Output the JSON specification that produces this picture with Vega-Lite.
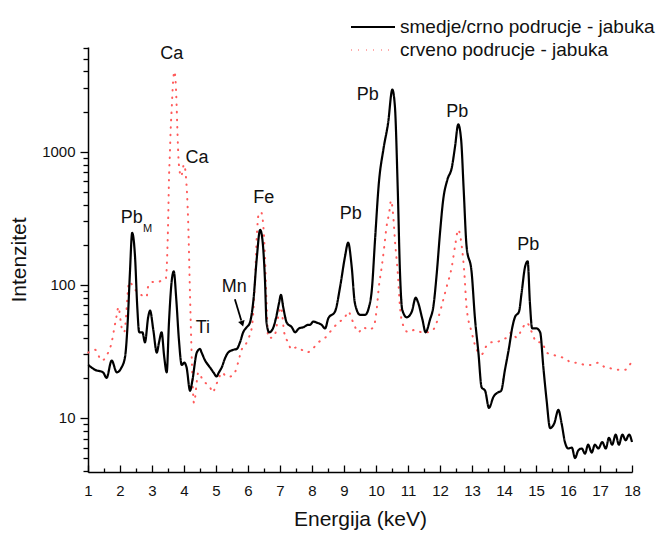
{
  "$schema": "https://vega.github.io/schema/vega-lite/v6.json",
  "width": 544,
  "height": 425,
  "autosize": "none",
  "padding": {"left": 88, "top": 47, "right": 30, "bottom": 68},
  "datasets": {
    "black": [
      {"E":1.01,"I":25,"s":"smedje/crno podrucje - jabuka"},
      {"E":1.22,"I":23,"s":"smedje/crno podrucje - jabuka"},
      {"E":1.47,"I":22,"s":"smedje/crno podrucje - jabuka"},
      {"E":1.58,"I":20,"s":"smedje/crno podrucje - jabuka"},
      {"E":1.74,"I":27,"s":"smedje/crno podrucje - jabuka"},
      {"E":1.9,"I":22,"s":"smedje/crno podrucje - jabuka"},
      {"E":2.05,"I":24,"s":"smedje/crno podrucje - jabuka"},
      {"E":2.16,"I":29,"s":"smedje/crno podrucje - jabuka"},
      {"E":2.24,"I":52,"s":"smedje/crno podrucje - jabuka"},
      {"E":2.31,"I":123,"s":"smedje/crno podrucje - jabuka"},
      {"E":2.38,"I":245,"s":"smedje/crno podrucje - jabuka"},
      {"E":2.47,"I":162,"s":"smedje/crno podrucje - jabuka"},
      {"E":2.54,"I":68,"s":"smedje/crno podrucje - jabuka"},
      {"E":2.6,"I":44,"s":"smedje/crno podrucje - jabuka"},
      {"E":2.7,"I":44,"s":"smedje/crno podrucje - jabuka"},
      {"E":2.78,"I":37,"s":"smedje/crno podrucje - jabuka"},
      {"E":2.88,"I":57,"s":"smedje/crno podrucje - jabuka"},
      {"E":2.94,"I":64,"s":"smedje/crno podrucje - jabuka"},
      {"E":3.04,"I":46,"s":"smedje/crno podrucje - jabuka"},
      {"E":3.15,"I":31,"s":"smedje/crno podrucje - jabuka"},
      {"E":3.22,"I":37,"s":"smedje/crno podrucje - jabuka"},
      {"E":3.3,"I":44,"s":"smedje/crno podrucje - jabuka"},
      {"E":3.38,"I":29,"s":"smedje/crno podrucje - jabuka"},
      {"E":3.46,"I":22,"s":"smedje/crno podrucje - jabuka"},
      {"E":3.53,"I":52,"s":"smedje/crno podrucje - jabuka"},
      {"E":3.62,"I":109,"s":"smedje/crno podrucje - jabuka"},
      {"E":3.68,"I":126,"s":"smedje/crno podrucje - jabuka"},
      {"E":3.76,"I":77,"s":"smedje/crno podrucje - jabuka"},
      {"E":3.84,"I":39,"s":"smedje/crno podrucje - jabuka"},
      {"E":3.93,"I":25,"s":"smedje/crno podrucje - jabuka"},
      {"E":4.01,"I":26,"s":"smedje/crno podrucje - jabuka"},
      {"E":4.08,"I":24,"s":"smedje/crno podrucje - jabuka"},
      {"E":4.19,"I":16,"s":"smedje/crno podrucje - jabuka"},
      {"E":4.26,"I":19,"s":"smedje/crno podrucje - jabuka"},
      {"E":4.4,"I":31,"s":"smedje/crno podrucje - jabuka"},
      {"E":4.5,"I":33,"s":"smedje/crno podrucje - jabuka"},
      {"E":4.55,"I":31,"s":"smedje/crno podrucje - jabuka"},
      {"E":4.66,"I":27,"s":"smedje/crno podrucje - jabuka"},
      {"E":4.81,"I":24,"s":"smedje/crno podrucje - jabuka"},
      {"E":4.92,"I":22,"s":"smedje/crno podrucje - jabuka"},
      {"E":5.02,"I":20.5,"s":"smedje/crno podrucje - jabuka"},
      {"E":5.09,"I":22,"s":"smedje/crno podrucje - jabuka"},
      {"E":5.18,"I":24,"s":"smedje/crno podrucje - jabuka"},
      {"E":5.28,"I":28,"s":"smedje/crno podrucje - jabuka"},
      {"E":5.38,"I":31,"s":"smedje/crno podrucje - jabuka"},
      {"E":5.54,"I":32.5,"s":"smedje/crno podrucje - jabuka"},
      {"E":5.65,"I":33,"s":"smedje/crno podrucje - jabuka"},
      {"E":5.75,"I":37,"s":"smedje/crno podrucje - jabuka"},
      {"E":5.85,"I":44,"s":"smedje/crno podrucje - jabuka"},
      {"E":5.96,"I":48,"s":"smedje/crno podrucje - jabuka"},
      {"E":6.06,"I":52,"s":"smedje/crno podrucje - jabuka"},
      {"E":6.17,"I":77,"s":"smedje/crno podrucje - jabuka"},
      {"E":6.27,"I":154,"s":"smedje/crno podrucje - jabuka"},
      {"E":6.38,"I":259,"s":"smedje/crno podrucje - jabuka"},
      {"E":6.46,"I":207,"s":"smedje/crno podrucje - jabuka"},
      {"E":6.53,"I":109,"s":"smedje/crno podrucje - jabuka"},
      {"E":6.58,"I":52,"s":"smedje/crno podrucje - jabuka"},
      {"E":6.66,"I":44,"s":"smedje/crno podrucje - jabuka"},
      {"E":6.76,"I":46,"s":"smedje/crno podrucje - jabuka"},
      {"E":6.88,"I":57,"s":"smedje/crno podrucje - jabuka"},
      {"E":6.97,"I":73,"s":"smedje/crno podrucje - jabuka"},
      {"E":7.03,"I":84,"s":"smedje/crno podrucje - jabuka"},
      {"E":7.1,"I":68,"s":"smedje/crno podrucje - jabuka"},
      {"E":7.21,"I":52,"s":"smedje/crno podrucje - jabuka"},
      {"E":7.37,"I":48,"s":"smedje/crno podrucje - jabuka"},
      {"E":7.47,"I":44,"s":"smedje/crno podrucje - jabuka"},
      {"E":7.59,"I":47,"s":"smedje/crno podrucje - jabuka"},
      {"E":7.73,"I":48,"s":"smedje/crno podrucje - jabuka"},
      {"E":7.88,"I":50,"s":"smedje/crno podrucje - jabuka"},
      {"E":7.94,"I":50,"s":"smedje/crno podrucje - jabuka"},
      {"E":8.04,"I":53,"s":"smedje/crno podrucje - jabuka"},
      {"E":8.15,"I":52,"s":"smedje/crno podrucje - jabuka"},
      {"E":8.3,"I":50,"s":"smedje/crno podrucje - jabuka"},
      {"E":8.41,"I":47,"s":"smedje/crno podrucje - jabuka"},
      {"E":8.51,"I":56,"s":"smedje/crno podrucje - jabuka"},
      {"E":8.72,"I":63,"s":"smedje/crno podrucje - jabuka"},
      {"E":8.88,"I":97,"s":"smedje/crno podrucje - jabuka"},
      {"E":9.03,"I":162,"s":"smedje/crno podrucje - jabuka"},
      {"E":9.13,"I":207,"s":"smedje/crno podrucje - jabuka"},
      {"E":9.24,"I":137,"s":"smedje/crno podrucje - jabuka"},
      {"E":9.34,"I":73,"s":"smedje/crno podrucje - jabuka"},
      {"E":9.5,"I":59.5,"s":"smedje/crno podrucje - jabuka"},
      {"E":9.66,"I":59.5,"s":"smedje/crno podrucje - jabuka"},
      {"E":9.78,"I":68,"s":"smedje/crno podrucje - jabuka"},
      {"E":9.87,"I":92,"s":"smedje/crno podrucje - jabuka"},
      {"E":9.97,"I":218,"s":"smedje/crno podrucje - jabuka"},
      {"E":10.09,"I":584,"s":"smedje/crno podrucje - jabuka"},
      {"E":10.23,"I":1035,"s":"smedje/crno podrucje - jabuka"},
      {"E":10.38,"I":1650,"s":"smedje/crno podrucje - jabuka"},
      {"E":10.51,"I":2920,"s":"smedje/crno podrucje - jabuka"},
      {"E":10.59,"I":2200,"s":"smedje/crno podrucje - jabuka"},
      {"E":10.68,"I":518,"s":"smedje/crno podrucje - jabuka"},
      {"E":10.75,"I":123,"s":"smedje/crno podrucje - jabuka"},
      {"E":10.82,"I":65,"s":"smedje/crno podrucje - jabuka"},
      {"E":10.96,"I":57,"s":"smedje/crno podrucje - jabuka"},
      {"E":11.12,"I":63,"s":"smedje/crno podrucje - jabuka"},
      {"E":11.24,"I":80,"s":"smedje/crno podrucje - jabuka"},
      {"E":11.32,"I":73,"s":"smedje/crno podrucje - jabuka"},
      {"E":11.45,"I":55,"s":"smedje/crno podrucje - jabuka"},
      {"E":11.55,"I":44,"s":"smedje/crno podrucje - jabuka"},
      {"E":11.69,"I":55,"s":"smedje/crno podrucje - jabuka"},
      {"E":11.79,"I":68,"s":"smedje/crno podrucje - jabuka"},
      {"E":11.9,"I":123,"s":"smedje/crno podrucje - jabuka"},
      {"E":12.0,"I":245,"s":"smedje/crno podrucje - jabuka"},
      {"E":12.1,"I":435,"s":"smedje/crno podrucje - jabuka"},
      {"E":12.23,"I":615,"s":"smedje/crno podrucje - jabuka"},
      {"E":12.37,"I":760,"s":"smedje/crno podrucje - jabuka"},
      {"E":12.47,"I":1090,"s":"smedje/crno podrucje - jabuka"},
      {"E":12.57,"I":1600,"s":"smedje/crno podrucje - jabuka"},
      {"E":12.66,"I":1230,"s":"smedje/crno podrucje - jabuka"},
      {"E":12.74,"I":518,"s":"smedje/crno podrucje - jabuka"},
      {"E":12.83,"I":195,"s":"smedje/crno podrucje - jabuka"},
      {"E":12.99,"I":123,"s":"smedje/crno podrucje - jabuka"},
      {"E":13.09,"I":57,"s":"smedje/crno podrucje - jabuka"},
      {"E":13.2,"I":31,"s":"smedje/crno podrucje - jabuka"},
      {"E":13.3,"I":17,"s":"smedje/crno podrucje - jabuka"},
      {"E":13.41,"I":16,"s":"smedje/crno podrucje - jabuka"},
      {"E":13.53,"I":11.9,"s":"smedje/crno podrucje - jabuka"},
      {"E":13.67,"I":14.4,"s":"smedje/crno podrucje - jabuka"},
      {"E":13.8,"I":15.5,"s":"smedje/crno podrucje - jabuka"},
      {"E":13.91,"I":16,"s":"smedje/crno podrucje - jabuka"},
      {"E":14.03,"I":23,"s":"smedje/crno podrucje - jabuka"},
      {"E":14.16,"I":34,"s":"smedje/crno podrucje - jabuka"},
      {"E":14.26,"I":48,"s":"smedje/crno podrucje - jabuka"},
      {"E":14.34,"I":57,"s":"smedje/crno podrucje - jabuka"},
      {"E":14.47,"I":63,"s":"smedje/crno podrucje - jabuka"},
      {"E":14.55,"I":87,"s":"smedje/crno podrucje - jabuka"},
      {"E":14.66,"I":137,"s":"smedje/crno podrucje - jabuka"},
      {"E":14.74,"I":150,"s":"smedje/crno podrucje - jabuka"},
      {"E":14.81,"I":73,"s":"smedje/crno podrucje - jabuka"},
      {"E":14.88,"I":47,"s":"smedje/crno podrucje - jabuka"},
      {"E":15.02,"I":47,"s":"smedje/crno podrucje - jabuka"},
      {"E":15.13,"I":44,"s":"smedje/crno podrucje - jabuka"},
      {"E":15.23,"I":24,"s":"smedje/crno podrucje - jabuka"},
      {"E":15.33,"I":13.7,"s":"smedje/crno podrucje - jabuka"},
      {"E":15.44,"I":8.4,"s":"smedje/crno podrucje - jabuka"},
      {"E":15.57,"I":9.1,"s":"smedje/crno podrucje - jabuka"},
      {"E":15.7,"I":11.5,"s":"smedje/crno podrucje - jabuka"},
      {"E":15.8,"I":9.1,"s":"smedje/crno podrucje - jabuka"},
      {"E":15.91,"I":6.5,"s":"smedje/crno podrucje - jabuka"},
      {"E":16.01,"I":5.9,"s":"smedje/crno podrucje - jabuka"},
      {"E":16.12,"I":6.0,"s":"smedje/crno podrucje - jabuka"},
      {"E":16.22,"I":5.0,"s":"smedje/crno podrucje - jabuka"},
      {"E":16.32,"I":5.7,"s":"smedje/crno podrucje - jabuka"},
      {"E":16.43,"I":5.9,"s":"smedje/crno podrucje - jabuka"},
      {"E":16.53,"I":5.4,"s":"smedje/crno podrucje - jabuka"},
      {"E":16.63,"I":6.3,"s":"smedje/crno podrucje - jabuka"},
      {"E":16.74,"I":5.5,"s":"smedje/crno podrucje - jabuka"},
      {"E":16.84,"I":6.3,"s":"smedje/crno podrucje - jabuka"},
      {"E":16.95,"I":5.9,"s":"smedje/crno podrucje - jabuka"},
      {"E":17.07,"I":6.6,"s":"smedje/crno podrucje - jabuka"},
      {"E":17.18,"I":5.9,"s":"smedje/crno podrucje - jabuka"},
      {"E":17.28,"I":7.1,"s":"smedje/crno podrucje - jabuka"},
      {"E":17.38,"I":6.3,"s":"smedje/crno podrucje - jabuka"},
      {"E":17.49,"I":7.5,"s":"smedje/crno podrucje - jabuka"},
      {"E":17.59,"I":6.3,"s":"smedje/crno podrucje - jabuka"},
      {"E":17.7,"I":7.5,"s":"smedje/crno podrucje - jabuka"},
      {"E":17.8,"I":6.8,"s":"smedje/crno podrucje - jabuka"},
      {"E":17.91,"I":7.5,"s":"smedje/crno podrucje - jabuka"},
      {"E":18.0,"I":6.6,"s":"smedje/crno podrucje - jabuka"}
    ],
    "red": [
      {"E":1.01,"I":31,"s":"crveno podrucje - jabuka"},
      {"E":1.22,"I":32.5,"s":"crveno podrucje - jabuka"},
      {"E":1.43,"I":27,"s":"crveno podrucje - jabuka"},
      {"E":1.63,"I":31,"s":"crveno podrucje - jabuka"},
      {"E":1.74,"I":37,"s":"crveno podrucje - jabuka"},
      {"E":1.82,"I":47,"s":"crveno podrucje - jabuka"},
      {"E":1.9,"I":59.5,"s":"crveno podrucje - jabuka"},
      {"E":1.95,"I":68,"s":"crveno podrucje - jabuka"},
      {"E":2.05,"I":48,"s":"crveno podrucje - jabuka"},
      {"E":2.13,"I":44,"s":"crveno podrucje - jabuka"},
      {"E":2.29,"I":105,"s":"crveno podrucje - jabuka"},
      {"E":2.47,"I":92,"s":"crveno podrucje - jabuka"},
      {"E":2.63,"I":85,"s":"crveno podrucje - jabuka"},
      {"E":2.83,"I":81,"s":"crveno podrucje - jabuka"},
      {"E":2.88,"I":97,"s":"crveno podrucje - jabuka"},
      {"E":3.04,"I":105,"s":"crveno podrucje - jabuka"},
      {"E":3.2,"I":105,"s":"crveno podrucje - jabuka"},
      {"E":3.32,"I":109,"s":"crveno podrucje - jabuka"},
      {"E":3.43,"I":111,"s":"crveno podrucje - jabuka"},
      {"E":3.49,"I":218,"s":"crveno podrucje - jabuka"},
      {"E":3.51,"I":345,"s":"crveno podrucje - jabuka"},
      {"E":3.53,"I":615,"s":"crveno podrucje - jabuka"},
      {"E":3.56,"I":980,"s":"crveno podrucje - jabuka"},
      {"E":3.58,"I":1390,"s":"crveno podrucje - jabuka"},
      {"E":3.62,"I":2200,"s":"crveno podrucje - jabuka"},
      {"E":3.65,"I":3100,"s":"crveno podrucje - jabuka"},
      {"E":3.7,"I":4000,"s":"crveno podrucje - jabuka"},
      {"E":3.74,"I":3300,"s":"crveno podrucje - jabuka"},
      {"E":3.77,"I":2200,"s":"crveno podrucje - jabuka"},
      {"E":3.79,"I":1540,"s":"crveno podrucje - jabuka"},
      {"E":3.84,"I":800,"s":"crveno podrucje - jabuka"},
      {"E":3.91,"I":650,"s":"crveno podrucje - jabuka"},
      {"E":4.0,"I":800,"s":"crveno podrucje - jabuka"},
      {"E":4.06,"I":650,"s":"crveno podrucje - jabuka"},
      {"E":4.13,"I":300,"s":"crveno podrucje - jabuka"},
      {"E":4.19,"I":80,"s":"crveno podrucje - jabuka"},
      {"E":4.25,"I":25,"s":"crveno podrucje - jabuka"},
      {"E":4.31,"I":13,"s":"crveno podrucje - jabuka"},
      {"E":4.45,"I":22,"s":"crveno podrucje - jabuka"},
      {"E":4.6,"I":19,"s":"crveno podrucje - jabuka"},
      {"E":4.71,"I":18,"s":"crveno podrucje - jabuka"},
      {"E":4.81,"I":17,"s":"crveno podrucje - jabuka"},
      {"E":4.91,"I":15.5,"s":"crveno podrucje - jabuka"},
      {"E":4.97,"I":17,"s":"crveno podrucje - jabuka"},
      {"E":5.06,"I":19,"s":"crveno podrucje - jabuka"},
      {"E":5.18,"I":22,"s":"crveno podrucje - jabuka"},
      {"E":5.33,"I":20.5,"s":"crveno podrucje - jabuka"},
      {"E":5.44,"I":20.5,"s":"crveno podrucje - jabuka"},
      {"E":5.59,"I":22,"s":"crveno podrucje - jabuka"},
      {"E":5.69,"I":26,"s":"crveno podrucje - jabuka"},
      {"E":5.8,"I":32.5,"s":"crveno podrucje - jabuka"},
      {"E":5.91,"I":35,"s":"crveno podrucje - jabuka"},
      {"E":6.0,"I":39,"s":"crveno podrucje - jabuka"},
      {"E":6.12,"I":48,"s":"crveno podrucje - jabuka"},
      {"E":6.22,"I":109,"s":"crveno podrucje - jabuka"},
      {"E":6.27,"I":218,"s":"crveno podrucje - jabuka"},
      {"E":6.34,"I":345,"s":"crveno podrucje - jabuka"},
      {"E":6.41,"I":350,"s":"crveno podrucje - jabuka"},
      {"E":6.48,"I":274,"s":"crveno podrucje - jabuka"},
      {"E":6.53,"I":162,"s":"crveno podrucje - jabuka"},
      {"E":6.58,"I":73,"s":"crveno podrucje - jabuka"},
      {"E":6.63,"I":40,"s":"crveno podrucje - jabuka"},
      {"E":6.74,"I":40,"s":"crveno podrucje - jabuka"},
      {"E":6.84,"I":42,"s":"crveno podrucje - jabuka"},
      {"E":6.94,"I":57,"s":"crveno podrucje - jabuka"},
      {"E":7.03,"I":68,"s":"crveno podrucje - jabuka"},
      {"E":7.13,"I":44,"s":"crveno podrucje - jabuka"},
      {"E":7.25,"I":37,"s":"crveno podrucje - jabuka"},
      {"E":7.37,"I":32.5,"s":"crveno podrucje - jabuka"},
      {"E":7.52,"I":34,"s":"crveno podrucje - jabuka"},
      {"E":7.68,"I":32.5,"s":"crveno podrucje - jabuka"},
      {"E":7.83,"I":31,"s":"crveno podrucje - jabuka"},
      {"E":7.99,"I":32.5,"s":"crveno podrucje - jabuka"},
      {"E":8.2,"I":37,"s":"crveno podrucje - jabuka"},
      {"E":8.41,"I":40,"s":"crveno podrucje - jabuka"},
      {"E":8.62,"I":46,"s":"crveno podrucje - jabuka"},
      {"E":8.82,"I":52,"s":"crveno podrucje - jabuka"},
      {"E":9.03,"I":57,"s":"crveno podrucje - jabuka"},
      {"E":9.13,"I":63,"s":"crveno podrucje - jabuka"},
      {"E":9.29,"I":52,"s":"crveno podrucje - jabuka"},
      {"E":9.45,"I":44,"s":"crveno podrucje - jabuka"},
      {"E":9.6,"I":48,"s":"crveno podrucje - jabuka"},
      {"E":9.76,"I":46,"s":"crveno podrucje - jabuka"},
      {"E":9.92,"I":48,"s":"crveno podrucje - jabuka"},
      {"E":10.02,"I":65,"s":"crveno podrucje - jabuka"},
      {"E":10.09,"I":97,"s":"crveno podrucje - jabuka"},
      {"E":10.18,"I":137,"s":"crveno podrucje - jabuka"},
      {"E":10.26,"I":195,"s":"crveno podrucje - jabuka"},
      {"E":10.33,"I":274,"s":"crveno podrucje - jabuka"},
      {"E":10.41,"I":345,"s":"crveno podrucje - jabuka"},
      {"E":10.47,"I":430,"s":"crveno podrucje - jabuka"},
      {"E":10.54,"I":325,"s":"crveno podrucje - jabuka"},
      {"E":10.59,"I":218,"s":"crveno podrucje - jabuka"},
      {"E":10.68,"I":123,"s":"crveno podrucje - jabuka"},
      {"E":10.75,"I":68,"s":"crveno podrucje - jabuka"},
      {"E":10.82,"I":52,"s":"crveno podrucje - jabuka"},
      {"E":11.01,"I":44,"s":"crveno podrucje - jabuka"},
      {"E":11.22,"I":46,"s":"crveno podrucje - jabuka"},
      {"E":11.43,"I":44,"s":"crveno podrucje - jabuka"},
      {"E":11.63,"I":44,"s":"crveno podrucje - jabuka"},
      {"E":11.79,"I":46,"s":"crveno podrucje - jabuka"},
      {"E":11.95,"I":57,"s":"crveno podrucje - jabuka"},
      {"E":12.1,"I":77,"s":"crveno podrucje - jabuka"},
      {"E":12.21,"I":97,"s":"crveno podrucje - jabuka"},
      {"E":12.37,"I":137,"s":"crveno podrucje - jabuka"},
      {"E":12.47,"I":195,"s":"crveno podrucje - jabuka"},
      {"E":12.57,"I":259,"s":"crveno podrucje - jabuka"},
      {"E":12.68,"I":195,"s":"crveno podrucje - jabuka"},
      {"E":12.76,"I":123,"s":"crveno podrucje - jabuka"},
      {"E":12.83,"I":68,"s":"crveno podrucje - jabuka"},
      {"E":12.99,"I":44,"s":"crveno podrucje - jabuka"},
      {"E":13.15,"I":32.5,"s":"crveno podrucje - jabuka"},
      {"E":13.3,"I":30,"s":"crveno podrucje - jabuka"},
      {"E":13.46,"I":35,"s":"crveno podrucje - jabuka"},
      {"E":13.62,"I":37,"s":"crveno podrucje - jabuka"},
      {"E":13.77,"I":37,"s":"crveno podrucje - jabuka"},
      {"E":13.93,"I":39,"s":"crveno podrucje - jabuka"},
      {"E":14.08,"I":40,"s":"crveno podrucje - jabuka"},
      {"E":14.24,"I":44,"s":"crveno podrucje - jabuka"},
      {"E":14.4,"I":40,"s":"crveno podrucje - jabuka"},
      {"E":14.55,"I":46,"s":"crveno podrucje - jabuka"},
      {"E":14.71,"I":52,"s":"crveno podrucje - jabuka"},
      {"E":14.87,"I":44,"s":"crveno podrucje - jabuka"},
      {"E":15.02,"I":37,"s":"crveno podrucje - jabuka"},
      {"E":15.18,"I":37,"s":"crveno podrucje - jabuka"},
      {"E":15.33,"I":31,"s":"crveno podrucje - jabuka"},
      {"E":15.49,"I":30,"s":"crveno podrucje - jabuka"},
      {"E":15.7,"I":29,"s":"crveno podrucje - jabuka"},
      {"E":15.91,"I":28,"s":"crveno podrucje - jabuka"},
      {"E":16.12,"I":26,"s":"crveno podrucje - jabuka"},
      {"E":16.32,"I":26,"s":"crveno podrucje - jabuka"},
      {"E":16.53,"I":25,"s":"crveno podrucje - jabuka"},
      {"E":16.74,"I":25,"s":"crveno podrucje - jabuka"},
      {"E":16.95,"I":26,"s":"crveno podrucje - jabuka"},
      {"E":17.16,"I":24,"s":"crveno podrucje - jabuka"},
      {"E":17.37,"I":23.5,"s":"crveno podrucje - jabuka"},
      {"E":17.58,"I":23,"s":"crveno podrucje - jabuka"},
      {"E":17.78,"I":23,"s":"crveno podrucje - jabuka"},
      {"E":17.97,"I":26,"s":"crveno podrucje - jabuka"}
    ],
    "labels": [
      {"E":3.62,"I":5360,"t":"Ca"},
      {"E":4.41,"I":901,"t":"Ca"},
      {"E":2.37,"I":319,"t":"Pb"},
      {"E":4.59,"I":47.1,"t":"Ti"},
      {"E":5.57,"I":95.7,"t":"Mn"},
      {"E":6.49,"I":445,"t":"Fe"},
      {"E":9.21,"I":342,"t":"Pb"},
      {"E":9.745,"I":2647,"t":"Pb"},
      {"E":12.54,"I":1982,"t":"Pb"},
      {"E":14.76,"I":200,"t":"Pb"}
    ],
    "sub": [
      {"E":2.86,"I":262,"t":"M"}
    ],
    "arrow": [
      {"E":5.59,"I":78,"E2":5.79,"I2":54}
    ],
    "head": [
      {"E":5.82,"I":51}
    ]
  },
  "encoding": {
    "x": {
      "field": "E",
      "type": "quantitative",
      "scale": {"domain": [1, 18], "nice": false, "zero": false},
      "axis": null
    },
    "y": {
      "field": "I",
      "type": "quantitative",
      "scale": {"type": "log", "domain": [3.93, 6100], "nice": false},
      "axis": null
    }
  },
  "layer": [
    {
      "data": {"name": "red"},
      "mark": {"type": "line", "strokeWidth": 2, "strokeCap": "round", "interpolate": "monotone"},
      "encoding": {
        "x": {
          "field": "E", "type": "quantitative",
          "axis": {
            "title": "Energija (keV)",
            "orient": "bottom",
            "values": [1,2,3,4,5,6,7,8,9,10,11,12,13,14,15,16,17,18],
            "format": "d",
            "tickSize": -7,
            "labelPadding": 18,
            "labelFlush": false,
            "titlePadding": 10
          }
        },
        "y": {
          "field": "I", "type": "quantitative",
          "axis": {
            "title": "Intenzitet",
            "orient": "left",
            "values": [10, 100, 1000],
            "format": "d",
            "tickSize": 8,
            "labelPadding": 5,
            "titlePadding": 12
          }
        },
        "color": {"field": "s", "type": "nominal", "scale": {"domain": ["smedje/crno podrucje - jabuka", "crveno podrucje - jabuka"], "range": ["#000000", "#ff5b5b"]}, "legend": {"title": null}},
        "strokeDash": {"field": "s", "type": "nominal", "scale": {"domain": ["smedje/crno podrucje - jabuka", "crveno podrucje - jabuka"], "range": [[1, 0], [0.5, 7]]}, "legend": {"title": null}}
      }
    },
    {
      "data": {"name": "black"},
      "mark": {"type": "line", "strokeWidth": 2.2, "interpolate": "monotone"},
      "encoding": {
        "color": {"field": "s", "type": "nominal", "legend": {"title": null}},
        "strokeDash": {"field": "s", "type": "nominal", "legend": {"title": null}}
      }
    },
    {
      "data": {"name": "labels"},
      "mark": {"type": "text", "fontSize": 18, "font": "Liberation Sans", "color": "#111", "baseline": "middle", "align": "center"},
      "encoding": {"text": {"field": "t"}}
    },
    {
      "data": {"name": "sub"},
      "mark": {"type": "text", "fontSize": 11, "font": "Liberation Sans", "color": "#111", "baseline": "middle", "align": "center"},
      "encoding": {
        "text": {"field": "t"},
        "x": {
          "field": "E", "type": "quantitative",
          "axis": {
            "values": [1.5,2.5,3.5,4.5,5.5,6.5,7.5,8.5,9.5,10.5,11.5,12.5,13.5,14.5,15.5,16.5,17.5],
            "tickSize": -4, "labels": false, "domain": false, "title": null, "orient": "bottom"
          }
        },
        "y": {
          "field": "I", "type": "quantitative",
          "axis": {
            "values": [4,5,6,7,8,9,20,30,40,50,60,70,80,90,200,300,400,500,600,700,800,900,2000,3000,4000,5000,6000],
            "tickSize": 5, "labels": false, "domain": false, "title": null, "orient": "left"
          }
        }
      }
    },
    {
      "data": {"name": "arrow"},
      "mark": {"type": "rule", "strokeWidth": 1.8, "color": "#000"},
      "encoding": {"x2": {"field": "E2"}, "y2": {"field": "I2"}}
    },
    {
      "data": {"name": "head"},
      "mark": {"type": "point", "shape": "triangle-down", "filled": true, "color": "#000", "size": 45, "angle": 342, "opacity": 1},
      "encoding": {}
    }
  ],
  "resolve": {"axis": {"x": "independent", "y": "independent"}},
  "config": {
    "view": {"stroke": null},
    "font": "Liberation Sans",
    "axis": {
      "domainColor": "#000",
      "domainWidth": 1.5,
      "tickColor": "#000",
      "tickWidth": 1.3,
      "labelColor": "#111",
      "labelFont": "Liberation Sans",
      "labelFontSize": 15,
      "titleColor": "#111",
      "titleFont": "Liberation Sans",
      "titleFontSize": 21,
      "titleFontWeight": "normal",
      "grid": false
    },
    "legend": {
      "orient": "none",
      "legendX": 273,
      "legendY": -32,
      "padding": 0,
      "symbolType": "M-2,0L2,0",
      "symbolSize": 484,
      "symbolStrokeWidth": 2,
      "labelOffset": 15,
      "labelFontSize": 19,
      "labelFont": "Liberation Sans",
      "labelColor": "#111",
      "labelLimit": 500,
      "rowPadding": 1
    }
  }
}
